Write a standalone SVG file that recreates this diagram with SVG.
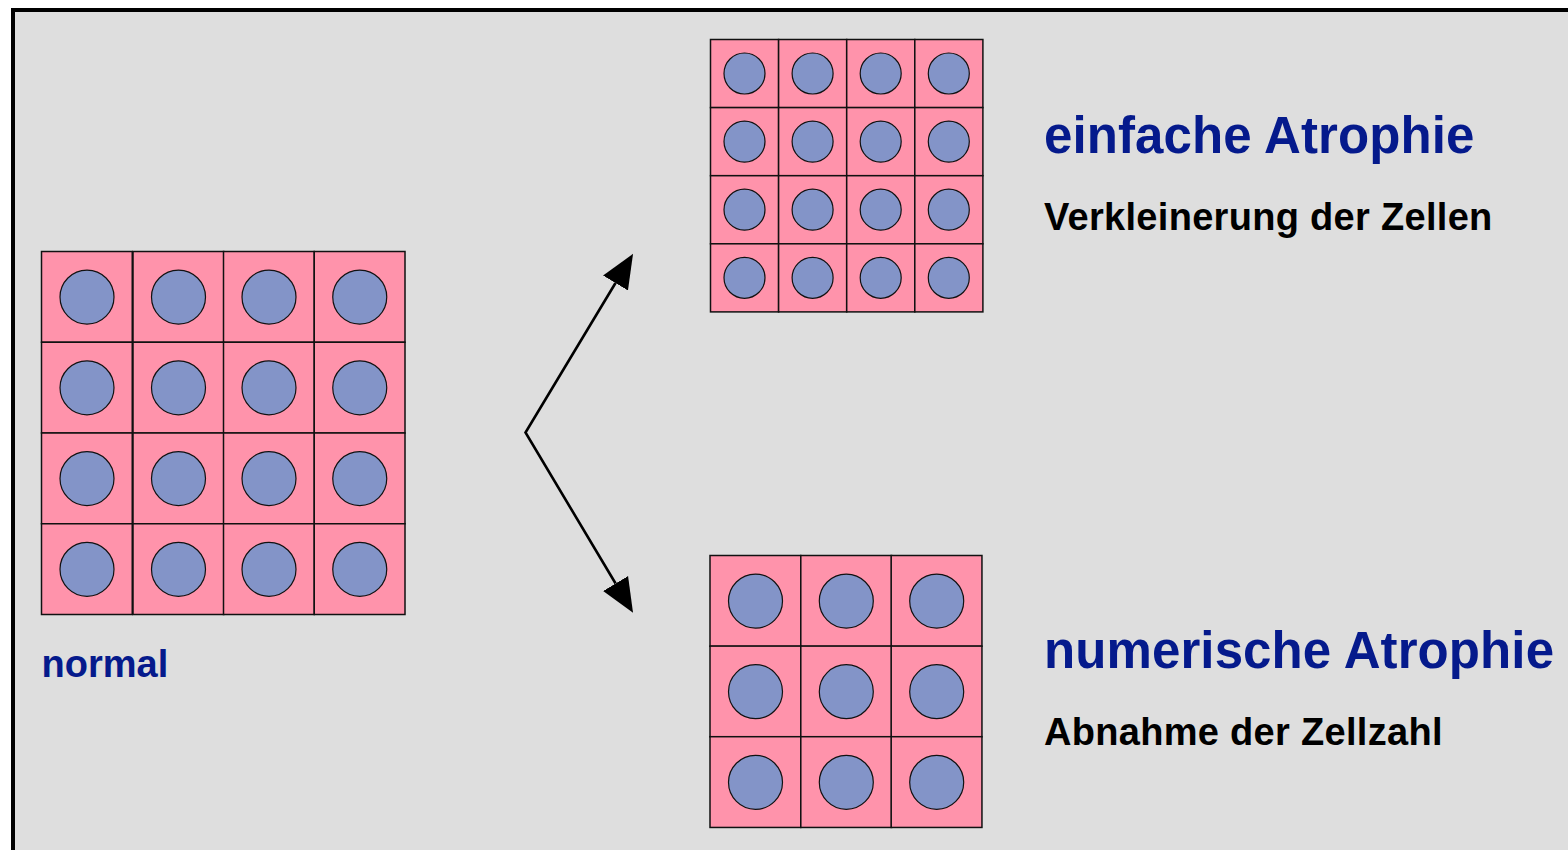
<svg xmlns="http://www.w3.org/2000/svg" width="1568" height="850" viewBox="0 0 1568 850">
  <style>
    .panel { fill: #dedede; stroke: #000; stroke-width: 4; }
    .cell { fill: #ff93ab; stroke: #111; stroke-width: 1.5; }
    .nucleus { fill: #8394c8; stroke: #111; stroke-width: 1.2; }
    .link { fill: none; stroke: #000; stroke-width: 2.6; stroke-linejoin: miter; }
    text { font-family: "Liberation Sans", Arial, sans-serif; font-weight: bold; }
    .title { fill: #051a8c; font-size: 51px; letter-spacing: 0.1px; }
    .sub { fill: #000; font-size: 38px; letter-spacing: 0.3px; }
    .tag { fill: #051a8c; font-size: 38px; }
  </style>
  <defs>
    <marker id="head" markerUnits="userSpaceOnUse" markerWidth="38" markerHeight="32" refX="0" refY="16" orient="auto-start-reverse">
      <polygon points="0,1.5 34,16 0,30.5" fill="#000"/>
    </marker>
    <g id="big-cell">
      <rect class="cell" width="90.75" height="90.75"/>
      <circle class="nucleus" cx="45.5" cy="45.6" r="27"/>
    </g>
    <g id="small-cell">
      <rect class="cell" width="68.1" height="68.1"/>
      <circle class="nucleus" cx="34" cy="34" r="20.5"/>
    </g>
    <g id="big-row-4">
      <use href="#big-cell" x="0"/>
      <use href="#big-cell" x="91.5"/>
      <use href="#big-cell" x="182"/>
      <use href="#big-cell" x="272.75"/>
    </g>
    <g id="small-row-4">
      <use href="#small-cell" x="0"/>
      <use href="#small-cell" x="68.1"/>
      <use href="#small-cell" x="136.2"/>
      <use href="#small-cell" x="204.3"/>
    </g>
    <g id="big-row-3">
      <use href="#big-cell" x="0"/>
      <use href="#big-cell" x="90.8"/>
      <use href="#big-cell" x="181.2"/>
    </g>
  </defs>

  <rect width="1568" height="850" fill="#fff"/>
  <rect class="panel" x="13" y="10" width="1600" height="900"/>

  <g id="tissue-normal" transform="translate(41.5 251.5)">
    <use href="#big-row-4" y="0"/>
    <use href="#big-row-4" y="90.75"/>
    <use href="#big-row-4" y="181.5"/>
    <use href="#big-row-4" y="272.25"/>
  </g>
  <g id="label-normal">
    <text class="tag" x="41.5" y="677">normal</text>
  </g>

  <g id="tissue-einfach" transform="translate(710.5 39.5)">
    <use href="#small-row-4" y="0"/>
    <use href="#small-row-4" y="68.1"/>
    <use href="#small-row-4" y="136.2"/>
    <use href="#small-row-4" y="204.3"/>
  </g>
  <g id="label-einfach">
    <text class="title" x="1044" y="153">einfache Atrophie</text>
    <text class="sub" x="1044" y="230">Verkleinerung der Zellen</text>
  </g>

  <g id="tissue-numerisch" transform="translate(710 555.5)">
    <use href="#big-row-3" y="0"/>
    <use href="#big-row-3" y="90.6"/>
    <use href="#big-row-3" y="181.2"/>
  </g>
  <g id="label-numerisch">
    <text class="title" x="1044" y="668">numerische Atrophie</text>
    <text class="sub" x="1044" y="745">Abnahme der Zellzahl</text>
  </g>

  <g id="connectors">
    <path class="link" d="M615.5 283 L525.5 432.5 L615.6 583.5" marker-start="url(#head)" marker-end="url(#head)"/>
  </g>
</svg>
